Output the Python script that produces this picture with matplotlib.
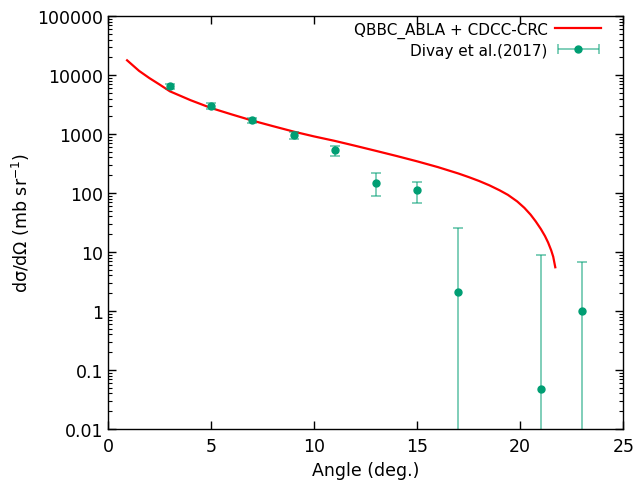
import numpy as np
import matplotlib
matplotlib.use('Agg')
import matplotlib.pyplot as plt
from matplotlib.legend_handler import HandlerErrorbar

plt.rc('font', family='DejaVu Sans', size=12.5)

# QBBC_ABLA + CDCC-CRC curve
theory_angle = [0.92, 1.5, 2.0, 2.5, 3.0, 4.0, 5.0, 6.0, 7.0, 8.0, 9.0, 10.0, 11.0, 12.0,
                13.0, 14.0, 15.0, 16.0, 17.0, 17.5, 18.0, 18.5, 19.0, 19.4, 19.85, 20.2,
                20.5, 20.75, 21.0, 21.2, 21.35, 21.5, 21.6, 21.7]
theory_xs = [17800, 11800, 8900, 6900, 5300, 3750, 2760, 2150, 1690, 1360, 1100, 910, 765, 631,
             518, 424, 344, 275, 214, 186, 160, 135, 111, 93, 72, 56,
             43, 33, 24.5, 18.6, 14.5, 10.7, 8.3, 5.5]

# Divay et al. (2017)
exp_angle = [3, 5, 7, 9, 11, 13, 15, 17, 21, 23]
exp_xs = [6500, 3000, 1700, 950, 530, 150, 112, 2.1, 0.048, 1.0]
exp_lo = [5900, 2650, 1530, 820, 430, 88, 67, 1e-5, 1e-5, 1e-5]
exp_hi = [7100, 3350, 1880, 1080, 620, 220, 155, 25.5, 9.0, 6.8]

green = '#009e73'

fig, ax = plt.subplots(figsize=(6.36, 4.89), dpi=100)

ax.plot(theory_angle, theory_xs, '-', c='red', lw=1.6, label='QBBC_ABLA + CDCC-CRC')

yerr = [np.array(exp_xs) - np.array(exp_lo), np.array(exp_hi) - np.array(exp_xs)]
ax.errorbar(exp_angle, exp_xs, yerr=yerr, fmt='o', ms=5, c=green, ecolor=green,
            elinewidth=1.4, capsize=3.5, capthick=1.4, label='_nolegend_')
# legend proxy, horizontal error bar like in gnuplot's key
ax.errorbar([np.nan], [np.nan], xerr=[1.0], fmt='o', ms=5, c=green, ecolor=green,
            elinewidth=1.4, capsize=3.5, capthick=1.4, label='Divay et al.(2017)')
for cont in ax.containers:
    for coll in cont.lines[1:]:
        for art in coll:
            art.set_alpha(0.5)

ax.set_yscale('log')
ax.set_xlim(0, 25)
ax.set_ylim(0.01, 100000)
ax.set_xticks([0, 5, 10, 15, 20, 25])
ax.set_yticks([0.01, 0.1, 1, 10, 100, 1000, 10000, 100000])
ax.set_yticklabels(['0.01', '0.1', '1', '10', '100', '1000', '10000', '100000'])
ax.tick_params(which='both', direction='in', top=True, right=True)
ax.tick_params(which='major', length=6, width=1)
ax.tick_params(which='minor', length=3, width=0.8)
ax.tick_params(axis='x', which='minor', bottom=False, top=False)
ax.tick_params(axis='x', pad=6)
for s in ax.spines.values():
    s.set_linewidth(1.0)

ax.set_xlabel('Angle (deg.)')
ax.set_ylabel('dσ/dΩ (mb sr$^{-1}$)')

handles, labels = ax.get_legend_handles_labels()
ax.legend(handles, labels, loc='upper right', bbox_to_anchor=(0.96, 0.99),
          frameon=False, markerfirst=False, fontsize=11,
          handlelength=3.0, borderaxespad=0, borderpad=0.1, labelspacing=0.3,
          handletextpad=0.5,
          handler_map={type(handles[1]): HandlerErrorbar(xerr_size=1.35)})

plt.subplots_adjust(left=0.17, right=0.98, bottom=0.121, top=0.965)
fig.savefig('out.png', dpi=100)
